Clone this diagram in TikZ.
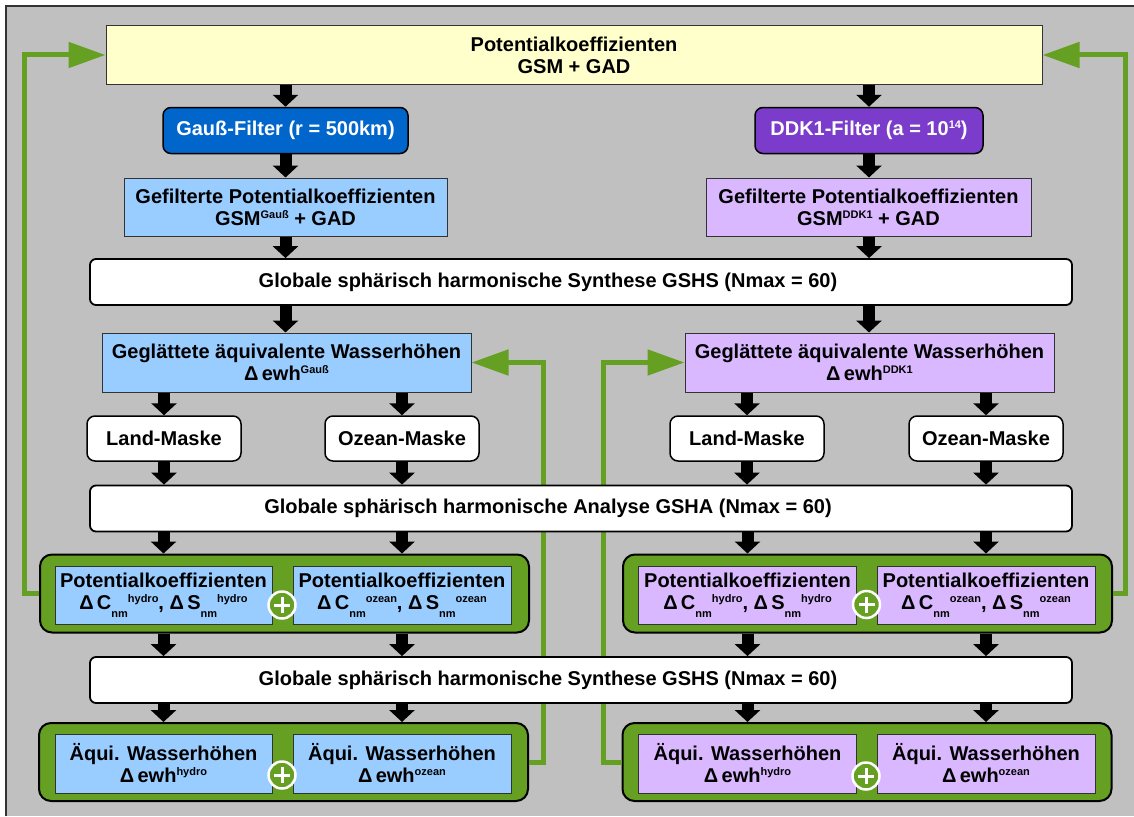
\documentclass[tikz,border=0pt]{standalone}
\usepackage{fontspec}
\setmainfont{Liberation Sans}
\usetikzlibrary{arrows.meta}

\definecolor{bgray}{HTML}{C0C0C0}
\definecolor{grn}{HTML}{66A022}
\definecolor{lblue}{HTML}{99CCFF}
\definecolor{lviolet}{HTML}{DAB8FF}
\definecolor{dblue}{HTML}{0066CC}
\definecolor{dviolet}{HTML}{7B3BCB}
\definecolor{lyellow}{HTML}{FFFFCC}

\newcommand{\boxfont}{\bfseries\fontsize{20}{22}\selectfont}
\newcommand{\hi}[1]{\raisebox{7pt}{\fontsize{11}{11}\selectfont #1}}
\newcommand{\lo}[1]{\raisebox{-8pt}{\fontsize{11}{11}\selectfont #1}}
% caption of a wide box, set a little left of the box centre
\newcommand{\leftish}[1]{\makebox[0pt]{\hspace*{-66pt}#1}}

\tikzset{
  base/.style={inner sep=0pt, align=center, font=\boxfont},
  plain/.style={base, draw=black!80, line width=1pt},
  headbox/.style={plain, fill=lyellow, minimum width=936pt, minimum height=58pt},
  filterbox/.style={base, draw=black, line width=1.5pt, rounded corners=8pt,
    text=white, minimum height=46pt},
  wide/.style={base, draw=black, line width=1.8pt, rounded corners=6pt,
    fill=white, minimum width=982pt, minimum height=46pt},
  mask/.style={base, draw=black, line width=1.5pt, rounded corners=8pt,
    fill=white, minimum width=154pt, minimum height=45pt},
  grp/.style={draw=black, line width=2pt, rounded corners=12pt, fill=grn,
    minimum width=489pt, minimum height=78pt, inner sep=0pt},
  cell/.style={plain, minimum width=217pt, minimum height=58pt},
  plussign/.style={circle, fill=grn, draw=white, line width=2.5pt,
    minimum size=27pt, inner sep=0pt,
    path picture={\draw[white, line width=3pt]
      ([xshift=-8pt]path picture bounding box.center) --
      ([xshift=8pt]path picture bounding box.center)
      ([yshift=-8pt]path picture bounding box.center) --
      ([yshift=8pt]path picture bounding box.center);}},
  flow/.style={draw=black, line width=12pt,
    -{Triangle[length=12pt, width=25pt]}},
  fb/.style={draw=grn, line width=5pt, line join=miter,
    -{Triangle[length=37pt, width=25pt]}}
}

\begin{document}
\begin{tikzpicture}[x=1pt, y=-1pt]
\useasboundingbox (0,0) rectangle (1134,816);
\fill[white] (0,0) rectangle (1134,816);
\fill[bgray] (6,6) rectangle (1134,816);
\draw[black!80, line width=1.2pt] (6,816) -- (6,6) -- (1134,6);

% columns of the feedback lines
\coordinate (fbL) at (24.5,0);
\coordinate (fbM) at (543,0);
\coordinate (fbN) at (603,0);
\coordinate (fbR) at (1125.5,0);

% ---------- nodes ----------
\node[headbox] (top) at (574,55) {Potentialkoeffizienten\\GSM + GAD};

\node[filterbox, fill=dblue, minimum width=245pt] (gauss) at (285.5,130.5)
  {Gauß-Filter (r = 500km)};
\node[filterbox, fill=dviolet, minimum width=228pt] (ddk) at (869,130.5)
  {DDK1-Filter (a = 10\hi{14})};

\node[plain, fill=lblue, minimum width=323pt, minimum height=58pt] (gefL) at (285.5,207)
  {Gefilterte Potentialkoeffizienten\\GSM\hi{Gauß} + GAD};
\node[plain, fill=lviolet, minimum width=325pt, minimum height=58pt] (gefR) at (868.5,207)
  {Gefilterte Potentialkoeffizienten\\GSM\hi{DDK1} + GAD};

\node[wide] (gshs1) at (581,282)
  {\leftish{Globale sphärisch harmonische Synthese GSHS (Nmax = 60)}};

\node[plain, fill=lblue, minimum width=369pt, minimum height=59pt] (geglL) at (286.5,362.5)
  {Geglättete äquivalente Wasserhöhen\\Δ\,ewh\hi{Gauß}};
\node[plain, fill=lviolet, minimum width=369pt, minimum height=59pt] (geglR) at (869.5,362.5)
  {Geglättete äquivalente Wasserhöhen\\Δ\,ewh\hi{DDK1}};

\node[mask] (landL) at (164,438.5) {Land-Maske};
\node[mask] (ozL) at (402,438.5) {Ozean-Maske};
\node[mask] (landR) at (747,438.5) {Land-Maske};
\node[mask] (ozR) at (986,438.5) {Ozean-Maske};

\node[grp] (g1L) at (284.5,593.5) {};
\node[grp] (g1R) at (867.5,593.5) {};
\node[grp] (g2L) at (283.5,762) {};
\node[grp] (g2R) at (867,762) {};

% green feedback connectors, passing behind the wide boxes
\draw[fb] (g1L.west) -- (g1L.west -| fbL) -- (top.west -| fbL) -- (top.west);
\draw[fb] (g1R.east) -- (g1R.east -| fbR) -- (top.east -| fbR) -- (top.east);
\draw[fb] (g2L.east) -- (g2L.east -| fbM) -- (geglL.east -| fbM) -- (geglL.east);
\draw[fb] (g2R.west) -- (g2R.west -| fbN) -- (geglR.west -| fbN) -- (geglR.west);

\node[wide] (gsha) at (581,508.5)
  {\leftish{Globale sphärisch harmonische Analyse GSHA (Nmax = 60)}};
\node[wide] (gshs2) at (581,680)
  {\leftish{Globale sphärisch harmonische Synthese GSHS (Nmax = 60)}};

\node[cell, fill=lblue] (pkhL) at (163.5,595)
  {Potentialkoeffizienten\\Δ\,C\lo{nm}\hi{hydro}, Δ\,S\lo{nm}\hi{hydro}};
\node[cell, fill=lblue, minimum width=218pt] (pkoL) at (402,595)
  {Potentialkoeffizienten\\Δ\,C\lo{nm}\hi{ozean}, Δ\,S\lo{nm}\hi{ozean}};
\node[cell, fill=lviolet, minimum width=218pt] (pkhR) at (747.5,595)
  {Potentialkoeffizienten\\Δ\,C\lo{nm}\hi{hydro}, Δ\,S\lo{nm}\hi{hydro}};
\node[cell, fill=lviolet, minimum width=218pt] (pkoR) at (986,595)
  {Potentialkoeffizienten\\Δ\,C\lo{nm}\hi{ozean}, Δ\,S\lo{nm}\hi{ozean}};

\node[cell, fill=lblue, minimum height=59pt] (ewhL) at (163.5,763.5)
  {Äqui. Wasserhöhen\\Δ\,ewh\hi{hydro}};
\node[cell, fill=lblue, minimum width=218pt, minimum height=59pt] (ewoL) at (402,763.5)
  {Äqui. Wasserhöhen\\Δ\,ewh\hi{ozean}};
\node[cell, fill=lviolet, minimum width=218pt, minimum height=59pt] (ewhR) at (747.5,763.5)
  {Äqui. Wasserhöhen\\Δ\,ewh\hi{hydro}};
\node[cell, fill=lviolet, minimum width=218pt, minimum height=59pt] (ewoR) at (986,763.5)
  {Äqui. Wasserhöhen\\Δ\,ewh\hi{ozean}};

\node[plussign] (p1L) at (282,605) {};
\node[plussign] (p1R) at (866.5,604.5) {};
\node[plussign] (p2L) at (282,775) {};
\node[plussign] (p2R) at (866,776) {};

% ---------- black flow arrows ----------
\draw[flow] (top.south -| gauss.north) -- (gauss.north);
\draw[flow] (top.south -| ddk.north) -- (ddk.north);
\draw[flow] (gauss.south) -- (gefL.north -| gauss.south);
\draw[flow] (ddk.south) -- (gefR.north -| ddk.south);
\draw[flow] (gefL.south -| gauss.south) -- (gshs1.north -| gauss.south);
\draw[flow] (gefR.south -| ddk.south) -- (gshs1.north -| ddk.south);
\draw[flow] (gshs1.south -| gauss.south) -- (geglL.north -| gauss.south);
\draw[flow] (gshs1.south -| ddk.south) -- (geglR.north -| ddk.south);

\foreach \g/\m in {geglL/landL, geglL/ozL, geglR/landR, geglR/ozR}{
  \draw[flow] (\g.south -| \m.north) -- (\m.north);
  \draw[flow] (\m.south) -- (gsha.north -| \m.south);
}
\foreach \c/\g in {pkhL/g1L, pkoL/g1L, pkhR/g1R, pkoR/g1R}{
  \draw[flow] (gsha.south -| \c.north) -- (\g.north -| \c.north);
  \draw[flow] (\g.south -| \c.south) -- (gshs2.north -| \c.south);
}
\foreach \c/\g in {ewhL/g2L, ewoL/g2L, ewhR/g2R, ewoR/g2R}{
  \draw[flow] (gshs2.south -| \c.north) -- (\g.north -| \c.north);
}
\end{tikzpicture}
\end{document}
